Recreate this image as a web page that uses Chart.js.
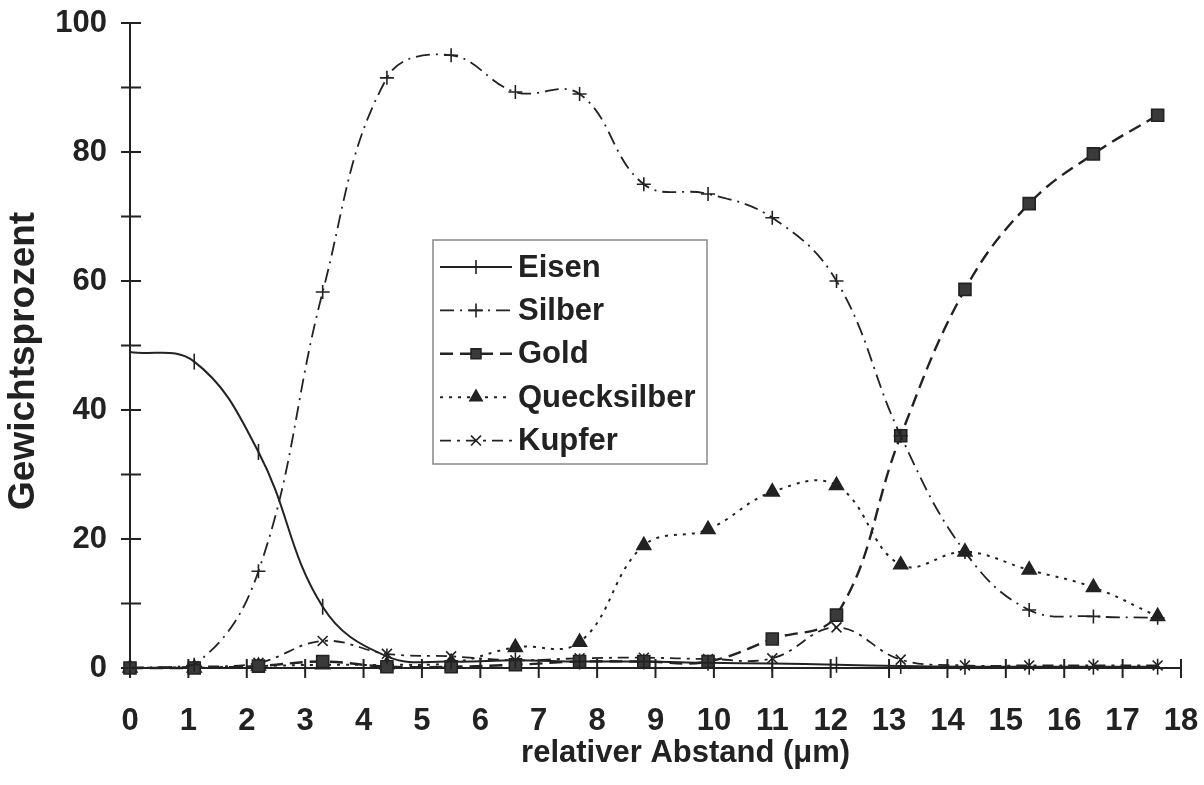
<!DOCTYPE html>
<html>
<head>
<meta charset="utf-8">
<script src="https://cdn.jsdelivr.net/npm/chart.js@4.4.1/dist/chart.umd.min.js"></script>
<style>
  html, body { margin: 0; padding: 0; background: #fff; }
  #wrap { width: 1204px; height: 785px; }
</style>
</head>
<body>
<div id="wrap"><canvas id="chart"></canvas></div>
<script>
// measured positions (relativer Abstand, µm) and weight percent per element
const abstand = [0, 1.1, 2.2, 3.3, 4.4, 5.5, 6.6, 7.7, 8.8, 9.9, 11.0, 12.1, 13.2, 14.3, 15.4, 16.5, 17.6];
const eisen = [49, 47.5, 33.5, 9.5, 1.8, 1.0, 1.2, 1.0, 1.0, 0.8, 0.7, 0.5, 0.3, 0.2, 0.2, 0.2, 0.2];
const silber = [0, 0.5, 15, 58.3, 91.5, 95, 89.3, 89, 75, 73.5, 69.8, 60, 36, 18, 9, 8, 7.8];
const gold = [0, 0, 0.3, 1.0, 0.2, 0.2, 0.5, 1.0, 1.0, 1.0, 4.5, 8.2, 36, 58.7, 72, 79.7, 85.7];
const quecksilber = [0, 0, 0.3, 0.5, 0.5, 0.8, 3.2, 4.0, 19, 21.5, 27.3, 28.3, 16, 18, 15.2, 12.5, 8];
const kupfer = [0, 0.2, 0.8, 4.2, 2.2, 1.8, 1.2, 1.5, 1.6, 1.4, 1.5, 6.3, 1.3, 0.4, 0.4, 0.4, 0.4];
const yLabels = [0, 20, 40, 60, 80, 100];

const FONT = '"Liberation Sans", Arial, sans-serif';
const INK = '#222';

const pts = vals => vals.map((v, i) => ({ x: abstand[i], y: v }));

const series = [
  { label: 'Eisen', data: pts(eisen), borderWidth: 2, borderDash: [],
    pointStyle: 'line', rotation: 90, pointRadius: 8, legendStyle: 'cross' },
  { label: 'Silber', data: pts(silber), borderWidth: 1.8, borderDash: [14, 6, 2, 6],
    pointStyle: 'cross', pointRadius: 7 },
  { label: 'Gold', data: pts(gold), borderWidth: 2.4, borderDash: [13, 7],
    pointStyle: 'rect', pointRadius: 8.5, pointBackgroundColor: '#3a3a3a' },
  { label: 'Quecksilber', data: pts(quecksilber), borderWidth: 2, borderDash: [3, 6],
    pointStyle: 'triangle', pointRadius: 8, pointBackgroundColor: INK },
  { label: 'Kupfer', data: pts(kupfer), borderWidth: 1.8, borderDash: [11, 6, 3, 6],
    pointStyle: 'crossRot', pointRadius: 7 }
];

// tick marks that cross the axis lines, like the original
const crossTicks = {
  id: 'crossTicks',
  beforeDatasetsDraw(chart) {
    const { ctx, chartArea, scales: { x, y } } = chart;
    ctx.save();
    ctx.strokeStyle = INK;
    ctx.lineWidth = 2;
    ctx.beginPath();
    y.ticks.forEach(t => {
      const py = y.getPixelForValue(t.value);
      ctx.moveTo(chartArea.left - 9, py);
      ctx.lineTo(chartArea.left + 11, py);
    });
    x.ticks.forEach(t => {
      const px = x.getPixelForValue(t.value);
      ctx.moveTo(px, chartArea.bottom - 9);
      ctx.lineTo(px, chartArea.bottom + 10);
    });
    ctx.stroke();
    ctx.restore();
  }
};

// boxed legend inside the plot
const boxLegend = {
  id: 'boxLegend',
  afterDraw(chart) {
    const ctx = chart.ctx;
    const box = { l: 433, t: 240, r: 707, b: 464 };
    ctx.save();
    ctx.fillStyle = '#fff';
    ctx.fillRect(box.l, box.t, box.r - box.l, box.b - box.t);
    ctx.strokeStyle = '#888';
    ctx.lineWidth = 1.5;
    ctx.strokeRect(box.l, box.t, box.r - box.l, box.b - box.t);
    chart.data.datasets.forEach((ds, i) => {
      const cy = 267 + i * 43.4;
      ctx.strokeStyle = INK;
      ctx.lineWidth = ds.borderWidth;
      ctx.setLineDash(ds.borderDash);
      ctx.beginPath();
      ctx.moveTo(440, cy);
      ctx.lineTo(512, cy);
      ctx.stroke();
      ctx.setLineDash([]);
      ctx.fillStyle = ds.pointBackgroundColor || INK;
      ctx.lineWidth = 1.6;
      Chart.helpers.drawPoint(ctx, {
        pointStyle: ds.legendStyle || ds.pointStyle,
        radius: Math.min(ds.pointRadius, 7),
        rotation: 0,
        borderWidth: 1.6
      }, 476, cy);
      ctx.fillStyle = INK;
      ctx.font = 'bold 31px ' + FONT;
      ctx.textBaseline = 'middle';
      ctx.textAlign = 'left';
      ctx.fillText(ds.label, 518, cy + 1);
    });
    ctx.restore();
  }
};

new Chart(document.getElementById('chart'), {
  type: 'line',
  data: {
    datasets: series.map(s => Object.assign({
      borderColor: INK,
      pointBorderColor: INK,
      pointBackgroundColor: INK,
      pointBorderWidth: 1.6,
      tension: 0.4,
      fill: false,
      clip: false
    }, s))
  },
  options: {
    responsive: true,
    maintainAspectRatio: false,
    animation: false,
    devicePixelRatio: 1,
    layout: { padding: 0 },
    plugins: {
      legend: { display: false },
      tooltip: { enabled: false }
    },
    scales: {
      x: {
        type: 'linear',
        min: 0,
        max: 18,
        grid: { display: false },
        border: { display: true, color: INK, width: 2 },
        ticks: {
          stepSize: 1,
          color: INK,
          padding: 27,
          maxRotation: 0,
          autoSkip: false,
          font: { family: FONT, size: 31, weight: 'bold' }
        },
        title: {
          display: true,
          text: '       relativer Abstand (\u03bcm)',
          color: INK,
          padding: { top: 0, bottom: 13 },
          font: { family: FONT, size: 31, weight: 'bold' }
        },
        afterFit: s => {
          s.height = 117;
          s.paddingLeft = 0;
          s.paddingRight = 23;
        }
      },
      y: {
        min: 0,
        max: 100,
        grid: { display: false },
        border: { display: true, color: INK, width: 2 },
        ticks: {
          stepSize: 10,
          color: INK,
          padding: 15,
          font: { family: FONT, size: 31, weight: 'bold' },
          callback: v => yLabels.includes(v) ? v : ''
        },
        title: {
          display: true,
          text: 'Gewichtsprozent   ',
          color: INK,
          padding: { top: 2, bottom: 0 },
          font: { family: FONT, size: 37, weight: 'bold' }
        },
        afterFit: s => {
          s.width = 130;
          s.paddingTop = 23;
          s.paddingBottom = 0;
        }
      }
    }
  },
  plugins: [crossTicks, boxLegend]
});
</script>
</body>
</html>
